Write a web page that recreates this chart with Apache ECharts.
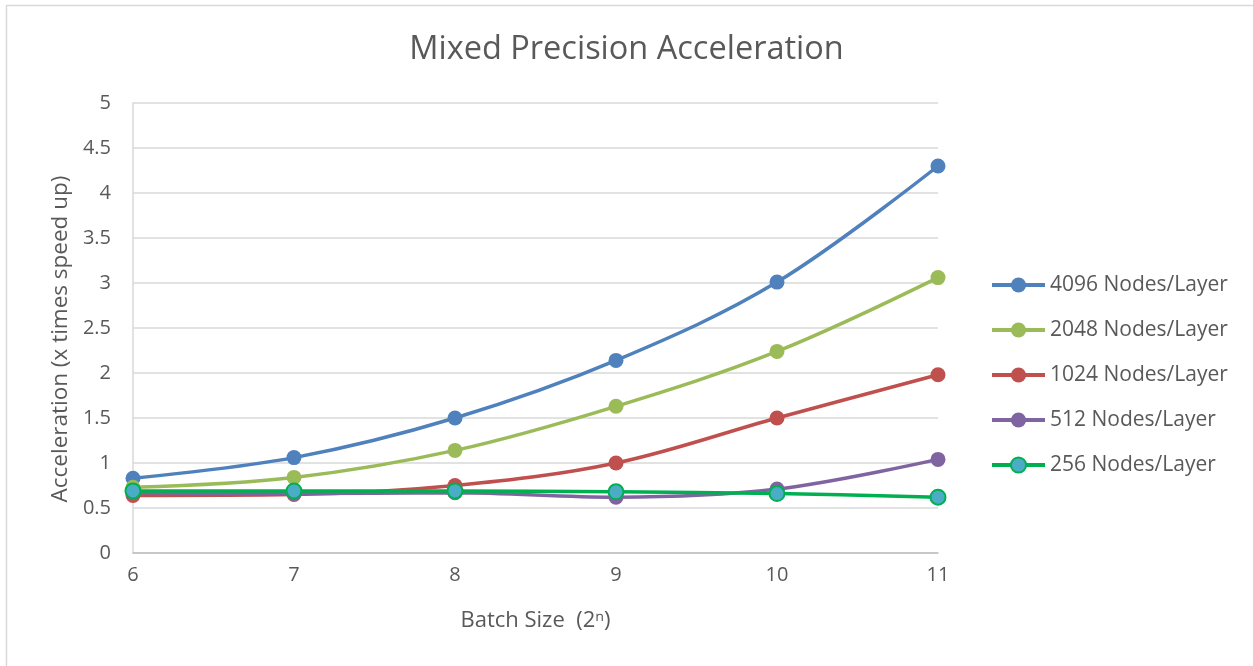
<!DOCTYPE html>
<html>
<head>
<meta charset="utf-8">
<title>Mixed Precision Acceleration</title>
<script src="https://cdn.jsdelivr.net/npm/echarts@6/dist/echarts.min.js"></script>
<style>
  html, body { margin: 0; padding: 0; background: #ffffff; }
  #chart { width: 1253px; height: 666px; }
</style>
</head>
<body>
<div id="chart"></div>
<script>
// Batch size exponents (2^n)
const batchExponents = [6, 7, 8, 9, 10, 11];

// Speed-up factor of mixed precision per network width
const nodes4096 = [0.83, 1.06, 1.50, 2.14, 3.01, 4.30];
const nodes2048 = [0.73, 0.84, 1.14, 1.63, 2.24, 3.06];
const nodes1024 = [0.64, 0.65, 0.75, 1.00, 1.50, 1.98];
const nodes512  = [0.67, 0.66, 0.67, 0.62, 0.71, 1.04];
const nodes256  = [0.69, 0.69, 0.69, 0.68, 0.66, 0.62];

const seriesNames = ['4096 Nodes/Layer', '2048 Nodes/Layer', '1024 Nodes/Layer', '512 Nodes/Layer', '256 Nodes/Layer'];
const yTicks = [0, 0.5, 1, 1.5, 2, 2.5, 3, 3.5, 4, 4.5, 5];

const FONT = '"Open Sans", sans-serif';
const TEXT = '#595959';

const styles = [
  { line: '#4f81bd', fill: '#4f81bd', border: '#4f81bd' },
  { line: '#9bbb59', fill: '#9bbb59', border: '#9bbb59' },
  { line: '#c0504d', fill: '#c0504d', border: '#c0504d' },
  { line: '#8064a2', fill: '#8064a2', border: '#8064a2' },
  { line: '#00b050', fill: '#4bacc6', border: '#00b050' }
];
const values = [nodes4096, nodes2048, nodes1024, nodes512, nodes256];

const chart = echarts.init(document.getElementById('chart'), null, { renderer: 'canvas' });

const series = seriesNames.map((name, i) => ({
  name: name,
  type: 'line',
  smooth: 0.35,
  data: batchExponents.map((x, j) => [x, values[i][j]]),
  symbol: 'circle',
  symbolSize: 15,
  lineStyle: { color: styles[i].line, width: 3.5 },
  itemStyle: {
    color: styles[i].fill,
    borderColor: styles[i].border,
    borderWidth: i === 4 ? 2 : 0
  },
  z: 2 + i
}));

chart.setOption({
  backgroundColor: '#ffffff',
  animation: false,
  graphic: [{
    type: 'rect',
    shape: { x: 6.5, y: 5.5, width: 1260, height: 680 },
    style: { fill: null, stroke: '#d9d9d9', lineWidth: 1.5 },
    silent: true,
    z: -10
  }],
  title: {
    text: 'Mixed Precision Acceleration',
    left: 'center',
    top: 28,
    textStyle: { fontFamily: FONT, fontSize: 32.5, fontWeight: 'normal', color: TEXT }
  },
  grid: { left: 133, right: 315, top: 103, bottom: 113, containLabel: false },
  legend: {
    orient: 'vertical',
    left: 985,
    top: 269,
    itemWidth: 53,
    itemHeight: 19,
    itemGap: 23,
    lineStyle: { width: 4 },
    textStyle: { fontFamily: FONT, fontSize: 21, lineHeight: 22, color: TEXT },
    data: seriesNames
  },
  xAxis: {
    type: 'value',
    min: 6,
    max: 11,
    interval: 1,
    name: 'Batch Size  (2ⁿ)',
    nameLocation: 'middle',
    nameGap: 57,
    nameTextStyle: { fontFamily: FONT, fontSize: 22, color: TEXT },
    axisLine: { show: true, lineStyle: { color: '#bfbfbf', width: 1.5 } },
    axisTick: { show: false },
    splitLine: { show: false },
    axisLabel: { fontFamily: FONT, fontSize: 20, color: TEXT, margin: 12 }
  },
  yAxis: {
    type: 'value',
    min: 0,
    max: 5,
    interval: 0.5,
    name: 'Acceleration (x times speed up)',
    nameLocation: 'middle',
    nameGap: 61,
    nameTextStyle: { fontFamily: FONT, fontSize: 22.5, color: TEXT, padding: [0, 22, 0, 0] },
    axisLine: { show: true, lineStyle: { color: '#d9d9d9', width: 1.5 } },
    axisTick: { show: false },
    splitLine: { show: true, lineStyle: { color: '#d9d9d9', width: 1.5 } },
    axisLabel: {
      fontFamily: FONT, fontSize: 20, color: TEXT, margin: 22,
      formatter: v => {
        const t = yTicks.find(k => Math.abs(k - v) < 1e-9);
        return t === undefined ? '' : String(t);
      }
    }
  },
  series: series
});
</script>
</body>
</html>
